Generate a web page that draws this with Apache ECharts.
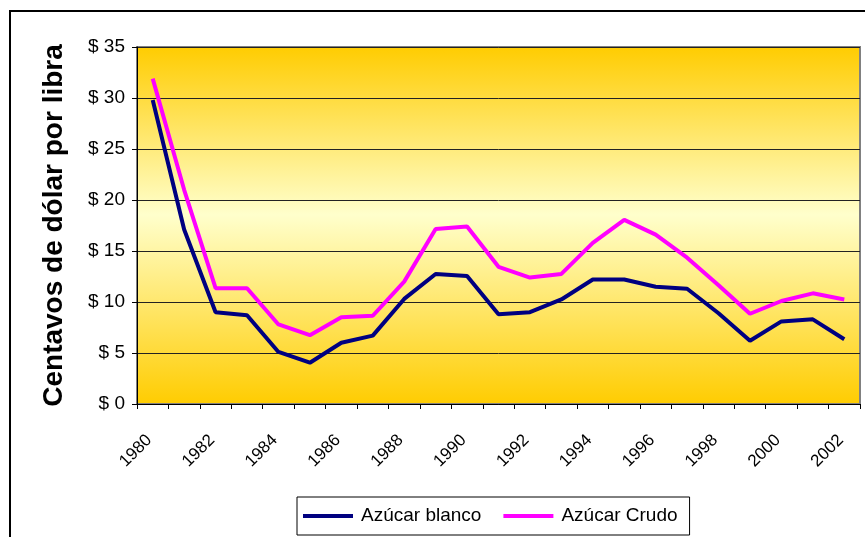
<!DOCTYPE html>
<html>
<head>
<meta charset="utf-8">
<script src="https://cdn.jsdelivr.net/npm/echarts@6/dist/echarts.min.js"></script>
<style>html,body{margin:0;padding:0;background:#fff}#c{width:865px;height:537px}</style>
</head>
<body>
<div id="c"></div>
<script>
const years = ['1980','1981','1982','1983','1984','1985','1986','1987','1988','1989','1990','1991','1992','1993','1994','1995','1996','1997','1998','1999','2000','2001','2002'];
const blanco = [29.8, 17.1, 9.0, 8.7, 5.1, 4.05, 6.0, 6.7, 10.3, 12.75, 12.55, 8.8, 9.0, 10.25, 12.2, 12.2, 11.5, 11.3, 8.9, 6.2, 8.1, 8.3, 6.35];
const crudo = [31.9, 21.0, 11.35, 11.35, 7.8, 6.75, 8.5, 8.65, 12.0, 17.15, 17.4, 13.45, 12.4, 12.75, 15.8, 18.05, 16.6, 14.35, 11.65, 8.85, 10.1, 10.85, 10.25];
const seriesNames = ['Azúcar blanco', 'Azúcar Crudo'];
const yTitle = 'Centavos de dólar por libra';

const chart = echarts.init(document.getElementById('c'), null, {renderer: 'canvas'});
chart.setOption({
  animation: false,
  backgroundColor: '#fff',
  graphic: [{
    type: 'rect', left: 9, top: 10, z: -10,
    shape: {x: 0, y: 0, width: 900, height: 600},
    style: {fill: '#fff', stroke: '#000', lineWidth: 2}
  }],
  grid: {
    left: 137, right: 5, top: 47, bottom: 133,
    show: true,
    borderColor: '#808080', borderWidth: 2,
    backgroundColor: {
      type: 'linear', x: 0, y: 0, x2: 0, y2: 1,
      colorStops: [
        {offset: 0, color: '#FFCC00'},
        {offset: 0.47, color: '#FFFFCC'},
        {offset: 1, color: '#FFCC00'}
      ]
    }
  },
  legend: {
    left: 297, top: 497,
    padding: [9, 12, 9, 6],
    borderColor: '#000', borderWidth: 1,
    backgroundColor: '#fff',
    itemWidth: 50, itemHeight: 4, itemGap: 22,
    icon: 'rect',
    textStyle: {fontFamily: 'Liberation Sans, Arial, sans-serif', fontSize: 19, color: '#000', lineHeight: 20, padding: [0, 0, 0, 3]},
    data: seriesNames
  },
  xAxis: {
    type: 'category',
    data: years,
    boundaryGap: true,
    axisLine: {show: true, lineStyle: {color: '#000', width: 1}},
    axisTick: {show: true, interval: 0, length: 5, lineStyle: {color: '#000'}},
    axisLabel: {
      interval: 1, rotate: 45, margin: 30, padding: [0, 5, 0, 0],
      fontFamily: 'Liberation Sans, Arial, sans-serif', fontSize: 17, color: '#000'
    },
    splitLine: {show: false}
  },
  yAxis: {
    type: 'value', min: 0, max: 35, interval: 5,
    name: yTitle,
    nameLocation: 'middle',
    nameGap: 69,
    nameRotate: 90,
    nameTextStyle: {fontFamily: 'Liberation Sans, Arial, sans-serif', fontSize: 28, fontWeight: 'bold', color: '#000'},
    axisLine: {show: true, lineStyle: {color: '#000', width: 1}},
    axisTick: {show: true, length: 5, lineStyle: {color: '#000'}},
    axisLabel: {
      margin: 12,
      formatter: v => '$ ' + v,
      fontFamily: 'Liberation Sans, Arial, sans-serif', fontSize: 19, color: '#000'
    },
    splitLine: {show: true, lineStyle: {color: '#222', width: 1}}
  },
  series: [
    {name: seriesNames[0], type: 'line', data: blanco, showSymbol: false, symbol: 'none',
     lineStyle: {color: '#000080', width: 4}, itemStyle: {color: '#000080'}},
    {name: seriesNames[1], type: 'line', data: crudo, showSymbol: false, symbol: 'none',
     lineStyle: {color: '#FF00FF', width: 4}, itemStyle: {color: '#FF00FF'}}
  ]
});
</script>
</body>
</html>
